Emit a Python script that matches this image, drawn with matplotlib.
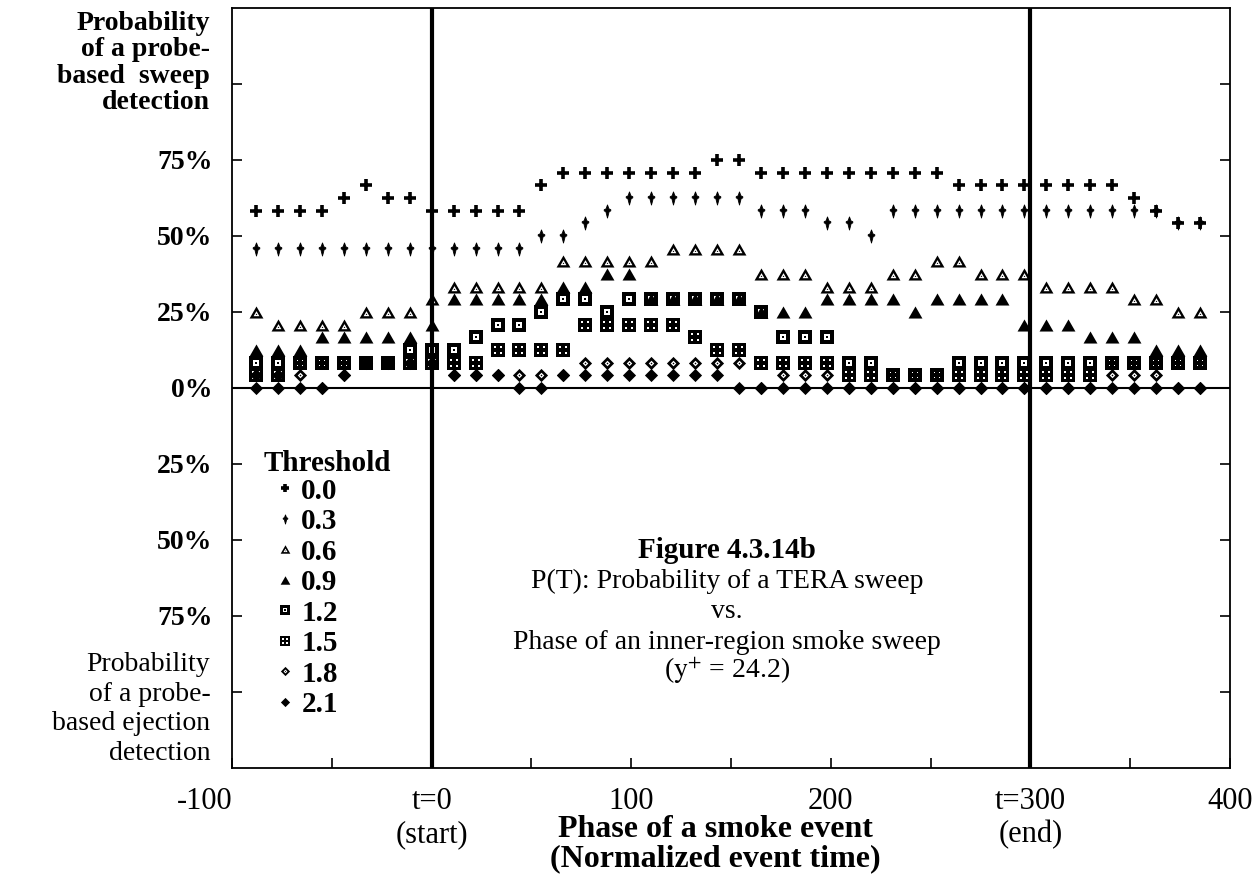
import numpy as np
import matplotlib
matplotlib.use('Agg')
import matplotlib.pyplot as plt
from matplotlib.path import Path

plt.rcParams['font.family'] = ['Liberation Serif', 'DejaVu Serif']
plt.rcParams['mathtext.fontset'] = 'stix'

# Normalized event time of each sample (t=0 start, t=300 end of smoke event)
event_time = [-88, -77, -66, -55, -44, -33, -22, -11, 0, 11, 22, 33, 44, 55, 66,
              77, 88, 99, 110, 121, 132, 143, 154, 165, 176, 187, 198, 209, 220,
              231, 242, 253, 264, 275, 286, 297, 308, 319, 330, 341, 352, 363, 374, 385]

# Probability of a probe-based detection (%) for each threshold
thr_00 = [58.3, 58.3, 58.3, 58.3, 62.5, 66.7, 62.5, 62.5, 58.3, 58.3, 58.3, 58.3, 58.3, 66.7,
          70.8, 70.8, 70.8, 70.8, 70.8, 70.8, 70.8, 75.0, 75.0,
          70.8, 70.8, 70.8, 70.8, 70.8, 70.8, 70.8, 70.8, 70.8,
          66.7, 66.7, 66.7, 66.7, 66.7, 66.7, 66.7, 66.7, 62.5, 58.3, 54.2, 54.2]
thr_03 = [45.8, 45.8, 45.8, 45.8, 45.8, 45.8, 45.8, 45.8, 45.8, 45.8, 45.8, 45.8, 45.8,
          50.0, 50.0, 54.2, 58.3, 62.5, 62.5, 62.5, 62.5, 62.5, 62.5,
          58.3, 58.3, 58.3, 54.2, 54.2, 50.0,
          58.3, 58.3, 58.3, 58.3, 58.3, 58.3, 58.3, 58.3, 58.3, 58.3, 58.3, 58.3, 58.3,
          54.2, 54.2]
thr_06 = [25.0, 20.8, 20.8, 20.8, 20.8, 25.0, 25.0, 25.0, 29.2, 33.3, 33.3, 33.3, 33.3, 33.3,
          41.7, 41.7, 41.7, 41.7, 41.7, 45.8, 45.8, 45.8, 45.8, 37.5, 37.5, 37.5,
          33.3, 33.3, 33.3, 37.5, 37.5, 41.7, 41.7, 37.5, 37.5, 37.5,
          33.3, 33.3, 33.3, 33.3, 29.2, 29.2, 25.0, 25.0]
thr_09 = [12.5, 12.5, 12.5, 16.7, 16.7, 16.7, 16.7, 16.7, 20.8, 29.2, 29.2, 29.2, 29.2, 29.2,
          33.3, 33.3, 37.5, 37.5, 29.2, 29.2, 29.2, 29.2, 29.2, 25.0, 25.0, 25.0,
          29.2, 29.2, 29.2, 29.2, 25.0, 29.2, 29.2, 29.2, 29.2,
          20.8, 20.8, 20.8, 16.7, 16.7, 16.7, 12.5, 12.5, 12.5]
thr_12 = [8.3, 8.3, 8.3, 8.3, 8.3, 8.3, 8.3, 12.5, 12.5, 12.5, 16.7, 20.8, 20.8, 25.0,
          29.2, 29.2, 25.0, 29.2, 29.2, 29.2, 29.2, 29.2, 29.2, 25.0, 16.7, 16.7, 16.7,
          8.3, 8.3, 4.2, 4.2, 4.2,
          8.3, 8.3, 8.3, 8.3, 8.3, 8.3, 8.3, 8.3, 8.3, 8.3, 8.3, 8.3]
thr_15 = [4.2, 4.2, 8.3, 8.3, 8.3, 8.3, 8.3, 8.3, 8.3, 8.3, 8.3, 12.5, 12.5, 12.5, 12.5,
          20.8, 20.8, 20.8, 20.8, 20.8, 16.7, 12.5, 12.5, 8.3, 8.3, 8.3, 8.3,
          4.2, 4.2, 4.2, 4.2, 4.2, 4.2, 4.2, 4.2, 4.2, 4.2, 4.2, 4.2,
          8.3, 8.3, 8.3, 8.3, 8.3]
thr_18 = [4.2, 4.2, 4.2, 0.0, 4.2, 8.3, 8.3, 8.3, 8.3, 4.2, 4.2, 4.2, 4.2, 4.2, 4.2,
          8.3, 8.3, 8.3, 8.3, 8.3, 8.3, 8.3, 8.3, 0.0, 4.2, 4.2, 4.2,
          0.0, 0.0, 0.0, 0.0, 0.0, 0.0, 0.0, 0.0, 0.0, 0.0, 0.0, 0.0,
          4.2, 4.2, 4.2, 0.0, 0.0]
thr_21 = [0.0, 0.0, 0.0, 0.0, 4.2, 8.3, 8.3, 8.3, 8.3, 4.2, 4.2, 4.2, 0.0, 0.0,
          4.2, 4.2, 4.2, 4.2, 4.2, 4.2, 4.2, 4.2,
          0.0, 0.0, 0.0, 0.0, 0.0, 0.0, 0.0, 0.0, 0.0, 0.0, 0.0, 0.0, 0.0, 0.0, 0.0,
          0.0, 0.0, 0.0, 0.0, 0.0, 0.0, 0.0]

thresholds = ['0.0', '0.3', '0.6', '0.9', '1.2', '1.5', '1.8', '2.1']
series = [thr_00, thr_03, thr_06, thr_09, thr_12, thr_15, thr_18, thr_21]


# marker shapes: outer polygon, optional hole (reversed) and a small centre dot
def poly_path(polys):
    verts, codes = [], []
    for p in polys:
        p = [tuple(v) for v in p]
        verts += p + [p[0]]
        codes += [Path.MOVETO] + [Path.LINETO] * (len(p) - 1) + [Path.CLOSEPOLY]
    return Path(verts, codes)


def open_marker(outer, hole=0.5, dot=0.15):
    outer = np.array(outer, float)
    c = outer.mean(axis=0)
    return poly_path([outer, (c + (outer - c) * hole)[::-1], c + (outer - c) * dot])


tri = [(-1, -0.87), (1, -0.87), (0, 0.87)]
sq = [(-1, -1), (1, -1), (1, 1), (-1, 1)]
dia = [(0, -1), (1, 0), (0, 1), (-1, 0)]
# vertical spindle with short side arms (the "dagger" glyph of threshold 0.3)
dagger = [(0, 1), (-0.22, 0.4), (-0.5, 0.28), (-0.5, 0.08), (-0.26, 0.0), (0, -1),
          (0.26, 0.0), (0.5, 0.08), (0.5, 0.28), (0.22, 0.4)]

grid_holes = []
for cx in (-0.4, 0.4):
    for cy in (-0.4, 0.4):
        grid_holes.append([(cx - 0.16, cy - 0.16), (cx - 0.16, cy + 0.16),
                           (cx + 0.16, cy + 0.16), (cx + 0.16, cy - 0.16)])

markers = ['+',
           poly_path([dagger]),
           open_marker(tri, 0.42, 0.12),
           poly_path([tri]),
           open_marker(sq, 0.5, 0.15),
           poly_path([sq] + grid_holes),
           open_marker(dia, 0.42, 0.15),
           poly_path([dia])]
sizes = [9, 9.5, 10, 10, 9.5, 9.5, 9.5, 9.5]
edge_w = [2.6, 0.6, 0, 0, 0, 0, 0, 0]

fig = plt.figure(figsize=(12.59, 8.75), dpi=100)
ax = fig.add_axes([0.1843, 0.1223, 0.7927, 0.8686])

handles = []
for vals, mk, ms, ew, lab in zip(series, markers, sizes, edge_w, thresholds):
    h, = ax.plot(event_time, vals, linestyle='none', marker=mk, markersize=ms,
                 color='black', markeredgewidth=ew, label=lab)
    handles.append(h)

# start / end of event and zero line
ax.axvline(0, color='black', lw=3)
ax.axvline(300, color='black', lw=3)
ax.axhline(0, color='black', lw=1.5)

ax.set_xlim(-100, 400)
ax.set_ylim(-125, 125)
ax.set_xticks([-100, 0, 100, 200, 300, 400])
ax.set_xticklabels(['-100', 't=0\n(start)', '100', '200', 't=300\n(end)', '400'],
                   linespacing=1.15)
ax.get_xticklabels()[0].set_ha('right')
ax.set_xticks([-50, 50, 150, 250, 350], minor=True)
ax.set_yticks([-100, -75, -50, -25, 0, 25, 50, 75, 100])
ax.set_yticklabels(['', '75%', '50%', '25%', '0%', '25%', '50%', '75%', ''])
for lbl in ax.get_yticklabels():
    lbl.set_fontweight('bold')
ax.tick_params(which='both', direction='in', length=7, width=1.2, right=True)
ax.tick_params(axis='y', pad=14, labelsize=20)
ax.tick_params(axis='x', pad=14, labelsize=22)
for sp in ax.spines.values():
    sp.set_linewidth(1.3)

ax.set_xlabel('Phase of a smoke event\n(Normalized event time)', fontsize=23,
              fontweight='bold', linespacing=1.0)
ax.xaxis.set_label_coords(0.484, -0.062)

# axis descriptions at the left
fig.text(0.167, 0.988, 'Probability\nof a probe-\nbased  sweep\ndetection', ha='right',
         va='top', fontsize=20, fontweight='bold', linespacing=1.08)
fig.text(0.167, 0.255, 'Probability\nof a probe-\nbased ejection\ndetection', ha='right',
         va='top', fontsize=20, linespacing=1.25)

# figure caption inside the plot
caption = ['Figure 4.3.14b', 'P(T): Probability of a TERA sweep', 'vs.',
           'Phase of an inner-region smoke sweep', '($\\mathrm{y}^{+}$ = 24.2)']
cap_y = [-53.6, -63.5, -73.4, -83.6, -93.1]
for i, (txt, yy) in enumerate(zip(caption, cap_y)):
    ax.text(148, yy, txt, ha='center', va='center',
            fontsize=21 if i == 0 else 20,
            fontweight='bold' if i == 0 else 'normal')

# threshold legend
ax.text(0.095, 0.401, 'Threshold', transform=ax.transAxes, ha='center', va='center',
        fontsize=21, fontweight='bold')
leg = ax.legend(handles=handles, loc='upper left',
                bbox_to_anchor=(0.046, 0.382), frameon=False,
                prop={'weight': 'bold', 'size': 21},
                markerscale=0.7, handlelength=0.5, handletextpad=0.3,
                labelspacing=0.12, borderpad=0, borderaxespad=0)

fig.savefig('out.png', dpi=100)
